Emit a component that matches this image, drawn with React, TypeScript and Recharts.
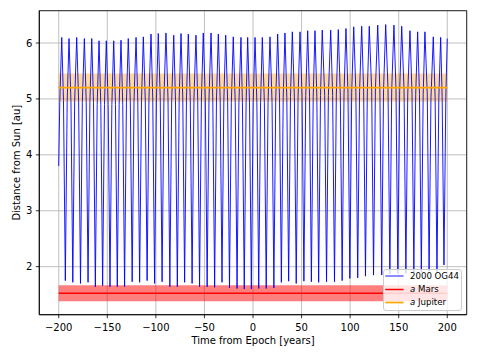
import { CartesianGrid, Legend, Line, LineChart, ReferenceArea, XAxis, YAxis } from "recharts";

const FONT = "DejaVu Sans, sans-serif";

// 2000 OG44, distance from the Sun [au]
// aphelion peaks
const aphelionYear = [
  -196.9, -189.4, -181.5, -173.6, -166.0, -158.5, -151.0, -143.4, -135.9, -128.4,
  -120.4, -112.9, -105.0, -97.5, -89.6, -81.6, -74.1, -66.6, -58.7, -51.2,
  -43.2, -35.7, -28.1, -20.3, -12.4, -5.5, 2.1, 9.6, 17.5, 25.4,
  32.9, 40.5, 48.4, 56.3, 63.8, 71.3, 80.0, 87.8, 95.7, 103.7,
  111.9, 119.7, 128.4, 136.6, 145.1, 153.1, 161.6, 169.5, 177.0, 185.6,
  193.2, 200.0,
];
const aphelionAu = [
  6.10, 6.08, 6.10, 6.08, 6.08, 6.04, 6.04, 6.04, 6.05, 6.08,
  6.10, 6.11, 6.16, 6.17, 6.18, 6.14, 6.17, 6.16, 6.14, 6.18,
  6.18, 6.16, 6.14, 6.11, 6.10, 6.10, 6.10, 6.10, 6.11, 6.16,
  6.18, 6.20, 6.20, 6.22, 6.22, 6.23, 6.23, 6.24, 6.26, 6.29,
  6.30, 6.30, 6.32, 6.33, 6.32, 6.30, 6.22, 6.20, 6.20, 6.11,
  6.10, 6.08,
];

// perihelion dips
const perihelionYear = [
  -193.2, -185.5, -177.6, -169.8, -162.3, -154.8, -147.2, -139.7, -132.2, -124.4,
  -116.7, -109.0, -101.3, -93.6, -85.6, -77.9, -70.4, -62.7, -55.0, -47.2,
  -39.5, -31.9, -24.2, -16.4, -9.0, -1.7, 5.9, 13.6, 21.5, 29.2,
  36.7, 44.5, 52.4, 60.1, 67.6, 75.7, 83.9, 91.8, 99.7, 107.8,
  115.8, 124.1, 132.5, 140.9, 149.1, 157.4, 165.6, 173.3, 181.3, 189.4,
  196.6,
];
const perihelionAu = [
  1.75, 1.72, 1.70, 1.72, 1.64, 1.66, 1.64, 1.64, 1.64, 1.73,
  1.72, 1.75, 1.70, 1.73, 1.64, 1.64, 1.72, 1.70, 1.64, 1.64,
  1.63, 1.72, 1.62, 1.61, 1.60, 1.60, 1.61, 1.61, 1.62, 1.72,
  1.74, 1.70, 1.74, 1.73, 1.72, 1.73, 1.73, 1.75, 1.79, 1.80,
  1.83, 1.85, 1.85, 1.87, 1.88, 1.88, 1.90, 1.90, 1.92, 1.91,
  2.03,
];

// points on the flanks (start of the track + shoulders either side of each dip)
const flankYear = [
  -200.0, -198.9,
  -195.1, -191.3, -187.4, -183.6, -179.5, -175.7, -171.7, -167.9, -164.2, -160.4,
  -156.7, -152.9, -149.1, -145.3, -141.6, -137.8, -134.1, -130.3, -126.3, -122.5,
  -118.6, -114.8, -110.9, -107.1, -103.2, -99.4, -95.5, -91.7, -87.5, -83.7,
  -79.8, -76.0, -72.3, -68.5, -64.6, -60.8, -56.9, -53.1, -49.1, -45.3,
  -41.4, -37.6, -33.8, -30.0, -26.1, -22.3, -18.3, -14.5, -10.9, -7.1,
  -3.6, 0.2, 4.0, 7.8, 11.7, 15.5, 19.6, 23.4, 27.3, 31.1,
  34.8, 38.6, 42.6, 46.4, 50.5, 54.3, 58.2, 62.0, 65.7, 69.5,
  73.8, 77.6, 82.0, 85.8, 89.9, 93.7, 97.8, 101.6, 105.9, 109.7,
  113.9, 117.7, 122.2, 126.0, 130.6, 134.4, 139.0, 142.8, 147.2, 151.0,
  155.5, 159.3, 163.7, 167.5, 171.4, 175.2, 179.4, 183.2, 187.5, 191.3,
  194.7, 198.5,
];
const flankAu = [
  3.80, 4.95,
  4.97, 4.95, 4.95, 4.96, 4.96, 4.94, 4.95, 4.95, 4.93, 4.90,
  4.90, 4.90, 4.90, 4.90, 4.90, 4.90, 4.90, 4.93, 4.95, 4.96,
  4.96, 4.97, 4.98, 5.01, 5.00, 5.01, 5.02, 5.02, 5.00, 4.97,
  4.97, 4.99, 5.01, 5.00, 5.00, 4.99, 4.97, 5.00, 5.00, 5.00,
  5.00, 4.98, 5.01, 4.99, 4.96, 4.94, 4.94, 4.93, 4.93, 4.93,
  4.93, 4.93, 4.93, 4.93, 4.93, 4.94, 4.94, 4.98, 5.01, 5.02,
  5.03, 5.04, 5.03, 5.03, 5.04, 5.06, 5.05, 5.05, 5.05, 5.06,
  5.06, 5.06, 5.06, 5.07, 5.07, 5.09, 5.10, 5.12, 5.12, 5.13,
  5.14, 5.14, 5.14, 5.16, 5.16, 5.17, 5.17, 5.16, 5.17, 5.15,
  5.15, 5.09, 5.10, 5.08, 5.08, 5.08, 5.09, 5.02, 5.02, 5.01,
  5.04, 5.03,
];

// planets: semi-major axis, perihelion, aphelion [au]
const marsA = 1.524;
const marsPeri = 1.381;
const marsAph = 1.666;
const jupiterA = 5.203;
const jupiterPeri = 4.95;
const jupiterAph = 5.455;

const seriesNames = ["2000 OG44", "a Mars", "a Jupiter"];
const spanYears = [-200, 200];
const xTicks = [-200, -150, -100, -50, 0, 50, 100, 150, 200];
const yTicks = [2, 3, 4, 5, 6];
const xDomain = [-220, 220];
const yDomain = [1.141, 6.578];

const orbit = [
  ...aphelionYear.map((year, i) => ({ year, au: aphelionAu[i] })),
  ...perihelionYear.map((year, i) => ({ year, au: perihelionAu[i] })),
  ...flankYear.map((year, i) => ({ year, au: flankAu[i] })),
].sort((p, q) => p.year - q.year);

const marsRow = spanYears.map((year) => ({ year, au: marsA }));
const jupiterRow = spanYears.map((year) => ({ year, au: jupiterA }));

const fmt = (v: number) => (v < 0 ? `\u2212${Math.abs(v)}` : `${v}`);

const tickStyle = { fontSize: 10, fill: "#000", fontFamily: FONT };

function OrbitLegend({ payload }: any) {
  // keep the plotting order, not recharts' alphabetical one
  const items = seriesNames
    .map((name) => (payload ?? []).find((p: any) => p.value === name))
    .filter(Boolean);
  return (
    <div
      style={{
        position: "relative",
        width: 79.6,
        height: 41.7,
        boxSizing: "border-box",
        background: "rgba(255,255,255,0.8)",
        border: "1px solid #cccccc",
        borderRadius: 3,
      }}
    >
      {items.map((entry: any, i: number) => {
        const label = String(entry.value);
        const isA = label.startsWith("a ");
        const w = entry.payload?.strokeWidth ?? 1;
        // thin comet line sits on a pixel edge, so it comes out light like the original
        const ly = i === 0 ? 6 : 6.5;
        return (
          <div
            key={label}
            style={{
              position: "absolute",
              left: 0,
              top: 5.7 + 13.2 * i - 6.5,
              height: 13,
              display: "flex",
              alignItems: "center",
              whiteSpace: "nowrap",
            }}
          >
            <svg width={22} height={13} style={{ display: "block" }}>
              <line x1={1.3} x2={19.6} y1={ly} y2={ly} stroke={entry.color} strokeWidth={w} />
            </svg>
            <span style={{ marginLeft: 4.3, fontFamily: FONT, fontSize: 8.6, color: "#000" }}>
              {isA ? (
                <>
                  <i>a</i> {label.slice(2)}
                </>
              ) : (
                label
              )}
            </span>
          </div>
        );
      })}
    </div>
  );
}

export default function App() {
  return (
    <div>
      <style>{"body{margin:0}"}</style>
      <LineChart width={478} height={359} margin={{ top: 10.7, right: 11.3, bottom: 0, left: 0 }}>
        <CartesianGrid stroke="#b0b0b0" strokeWidth={0.8} />
        <XAxis
          type="number"
          dataKey="year"
          domain={xDomain}
          ticks={xTicks}
          allowDataOverflow
          height={44.3}
          tickSize={3.5}
          tickMargin={5.4}
          tick={tickStyle}
          tickFormatter={fmt}
          axisLine={{ stroke: "#000", strokeWidth: 0.8 }}
          tickLine={{ stroke: "#000", strokeWidth: 0.8 }}
          label={{
            value: "Time from Epoch [years]",
            position: "insideBottom",
            offset: 14.7,
            style: { fontSize: 10, fill: "#000", fontFamily: FONT },
          }}
        />
        <YAxis
          type="number"
          dataKey="au"
          domain={yDomain}
          ticks={yTicks}
          allowDataOverflow
          width={39.3}
          tickSize={3.5}
          tickMargin={3.5}
          tick={tickStyle}
          axisLine={{ stroke: "#000", strokeWidth: 0.8 }}
          tickLine={{ stroke: "#000", strokeWidth: 0.8 }}
          label={{
            value: "Distance from Sun [au]",
            angle: -90,
            position: "insideLeft",
            offset: 16,
            style: { fontSize: 10, fill: "#000", fontFamily: FONT, textAnchor: "middle" },
          }}
        />
        <ReferenceArea
          x1={spanYears[0]}
          x2={spanYears[1]}
          y1={marsPeri}
          y2={marsAph}
          fill="#ff0000"
          fillOpacity={0.5}
          stroke="none"
        />
        <ReferenceArea
          x1={spanYears[0]}
          x2={spanYears[1]}
          y1={jupiterPeri}
          y2={jupiterAph}
          fill="#ffa500"
          fillOpacity={0.4}
          stroke="none"
        />
        <Line
          data={orbit}
          dataKey="au"
          name={seriesNames[0]}
          type="linear"
          stroke="#0000ff"
          strokeWidth={0.9}
          dot={false}
          activeDot={false}
          isAnimationActive={false}
        />
        <Line
          data={marsRow}
          dataKey="au"
          name={seriesNames[1]}
          type="linear"
          stroke="#ff0000"
          strokeWidth={1.5}
          dot={false}
          activeDot={false}
          isAnimationActive={false}
        />
        <Line
          data={jupiterRow}
          dataKey="au"
          name={seriesNames[2]}
          type="linear"
          stroke="#ffa500"
          strokeWidth={1.7}
          dot={false}
          activeDot={false}
          isAnimationActive={false}
        />
        <ReferenceArea
          x1={xDomain[0]}
          x2={xDomain[1]}
          y1={yDomain[0]}
          y2={yDomain[1]}
          fill="none"
          stroke="#000"
          strokeWidth={0.8}
        />
        <Legend
          layout="horizontal"
          verticalAlign="middle"
          align="center"
          content={<OrbitLegend />}
          wrapperStyle={{ left: 382.7, top: 269.3, width: 79.6, height: 41.7 }}
        />
      </LineChart>
    </div>
  );
}
